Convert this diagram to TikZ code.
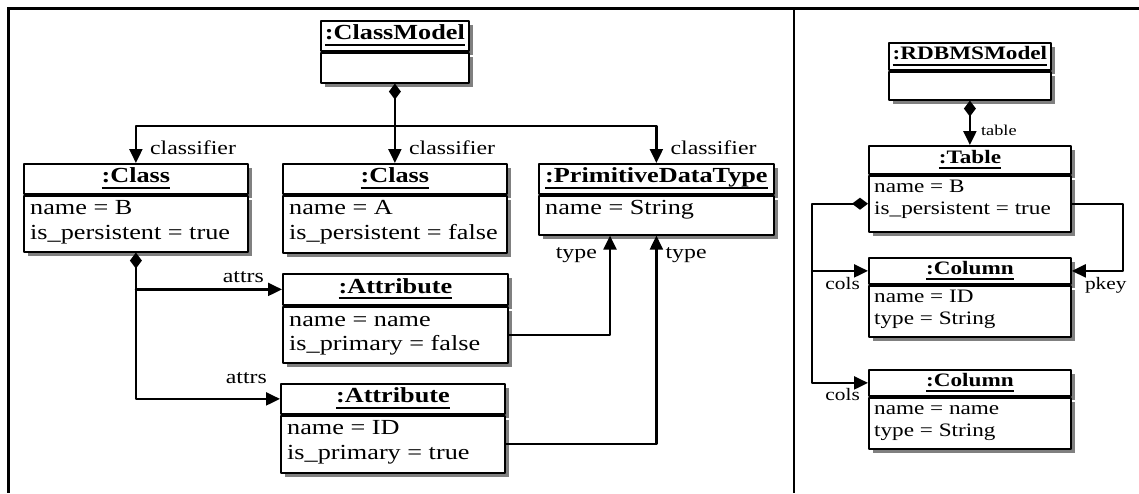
\documentclass[tikz,border=0pt]{standalone}
\usepackage{fontspec}
\setmainfont{Liberation Serif}[FakeStretch=1.22]
\usetikzlibrary{arrows.meta,shadows}
\newcommand\ulname[1]{\setbox0\hbox{#1}\rlap{\rule[-6pt]{\wd0}{2.4pt}}\box0}

\begin{document}
\begin{tikzpicture}[line cap=round,line join=round,x=1pt,y=-1pt]
\tikzset{
  box/.style={draw,line width=1.8pt,fill=white,anchor=north west,inner sep=0pt,
    drop shadow={shadow xshift=4.5pt,shadow yshift=-4.5pt,fill=black!50,opacity=1}},
  head/.style={box,font=\fontsize{21.5}{21}\selectfont\bfseries,text height=15pt,text depth=7pt},
  rhead/.style={box,font=\fontsize{19}{19}\selectfont\bfseries,text height=14pt,text depth=7pt},
  val/.style={anchor=base west,inner sep=0pt,font=\fontsize{21.5}{21}\selectfont},
  rval/.style={val,font=\fontsize{19}{19}\selectfont},
  lbl/.style={inner sep=0pt,font=\fontsize{19.5}{20}\selectfont},
  rlbl/.style={inner sep=0pt,font=\fontsize{17.5}{18}\selectfont},
  link/.style={line width=2.2pt,-{Triangle[length=14pt,width=13pt]}},
  comp/.style={line width=2.2pt,{Diamond[length=16pt,width=12pt]}-{Triangle[length=14pt,width=13pt]}},
  frame/.style={line width=2.7pt,line cap=butt},
}
\useasboundingbox (0,0) rectangle (1139,493);
% frame
\draw[frame] (7.4,8.7) -- (1139,8.7);
\draw[frame] (8.7,8.7) -- (8.7,493);
\draw[frame] (794,8.7) -- (794,493);

% class model side
\node[head,minimum width=148pt,minimum height=30pt] (cmh) at (320,20) {\ulname{:ClassModel}};
\node[box,minimum width=148pt,minimum height=30pt] (cm) at (cmh.south west) {};

\node[head,minimum width=224pt,minimum height=30pt] (clsbh) at (23,163) {\ulname{:Class}};
\node[box,minimum width=224pt,minimum height=56pt] (clsb) at (clsbh.south west) {};
\node[val] (clsb1) at ([xshift=7pt,yshift=-20pt]clsb.north west) {name = B};
\node[val] (clsb2) at ([xshift=7pt,yshift=-45pt]clsb.north west) {is\_persistent = true};

\node[head,minimum width=224pt,minimum height=30pt] (clsah) at (282,163) {\ulname{:Class}};
\node[box,minimum width=224pt,minimum height=57pt] (clsa) at (clsah.south west) {};
\node[val] (clsa1) at ([xshift=7pt,yshift=-20pt]clsa.north west) {name = A};
\node[val] (clsa2) at ([xshift=7pt,yshift=-45pt]clsa.north west) {is\_persistent = false};

\node[head,minimum width=235pt,minimum height=30pt] (pdth) at (538,163) {\ulname{:PrimitiveDataType}};
\node[box,minimum width=235pt,minimum height=39pt] (pdt) at (pdth.south west) {};
\node[val] (pdt1) at ([xshift=7pt,yshift=-20pt]pdt.north west) {name = String};

\node[head,minimum width=225pt,minimum height=31pt] (att1h) at (282,273) {\ulname{:Attribute}};
\node[box,minimum width=225pt,minimum height=56pt] (att1) at (att1h.south west) {};
\node[val] (att11) at ([xshift=7pt,yshift=-21pt]att1.north west) {name = name};
\node[val] (att12) at ([xshift=7pt,yshift=-45pt]att1.north west) {is\_primary = false};

\node[head,minimum width=224pt,minimum height=30pt] (att2h) at (280,383) {\ulname{:Attribute}};
\node[box,minimum width=224pt,minimum height=57pt] (att2) at (att2h.south west) {};
\node[val] (att21) at ([xshift=7pt,yshift=-20pt]att2.north west) {name = ID};
\node[val] (att22) at ([xshift=7pt,yshift=-45pt]att2.north west) {is\_primary = true};

\draw[comp] (cm.south) -- (clsah.north);
\draw[link] ([yshift=-42pt]cm.south) -| (clsbh.north);
\draw[link] ([yshift=-42pt]cm.south) -| (pdth.north);
\node[lbl,anchor=base west] (lc1) at ([xshift=14pt,yshift=9pt]clsbh.north) {classifier};
\node[lbl,anchor=base west] (lc2) at ([xshift=14pt,yshift=9pt]clsah.north) {classifier};
\node[lbl,anchor=base west] (lc3) at ([xshift=14pt,yshift=9pt]pdth.north) {classifier};

\draw[comp] (clsb.south) |- (att2h.west);
\draw[link] (clsb.south |- att1h.west) -- (att1h.west);
\node[lbl,anchor=base east] (la1) at ([xshift=-18pt,yshift=7pt]att1h.west) {attrs};
\node[lbl,anchor=base east] (la2) at ([xshift=-13pt,yshift=15pt]att2h.west) {attrs};

\draw[link] (att1.east) -| ([xshift=72pt]pdt.south west);
\draw[link] (att2.east) -| (pdt.south);
\node[lbl,anchor=base east] (lt1) at ([xshift=59pt,yshift=-23pt]pdt.south west) {type};
\node[lbl,anchor=base west] (lt2) at ([xshift=9pt,yshift=-23pt]pdt.south) {type};

% rdbms side
\node[rhead,minimum width=162pt,minimum height=27pt] (rdbh) at (888,42) {\ulname{:RDBMSModel}};
\node[box,minimum width=162pt,minimum height=28pt] (rdb) at (rdbh.south west) {};

\node[rhead,minimum width=202pt,minimum height=28pt] (tblh) at (868,145) {\ulname{:Table}};
\node[box,minimum width=202pt,minimum height=56pt] (tbl) at (tblh.south west) {};
\node[rval] (tbl1) at ([xshift=6pt,yshift=-18pt]tbl.north west) {name = B};
\node[rval] (tbl2) at ([xshift=6pt,yshift=-40pt]tbl.north west) {is\_persistent = true};

\node[rhead,minimum width=202pt,minimum height=26pt] (col1h) at (868,257) {\ulname{:Column}};
\node[box,minimum width=202pt,minimum height=51pt] (col1) at (col1h.south west) {};
\node[rval] (col11) at ([xshift=6pt,yshift=-18pt]col1.north west) {name = ID};
\node[rval] (col12) at ([xshift=6pt,yshift=-40pt]col1.north west) {type = String};

\node[rhead,minimum width=202pt,minimum height=26pt] (col2h) at (868,369) {\ulname{:Column}};
\node[box,minimum width=202pt,minimum height=51pt] (col2) at (col2h.south west) {};
\node[rval] (col21) at ([xshift=6pt,yshift=-18pt]col2.north west) {name = name};
\node[rval] (col22) at ([xshift=6pt,yshift=-40pt]col2.north west) {type = String};

\draw[comp] (rdb.south) -- (tblh.north);
\node[rlbl,anchor=base west,font=\fontsize{15}{15}\selectfont] (ltb) at ([xshift=11pt,yshift=10pt]tblh.north) {table};

\draw[comp] (tbl.west) -| ([xshift=-56pt]col1h.west) |- (col2h.west);
\draw[link] ([xshift=-56pt]col1h.west) -- (col1h.west);
\draw[link] (tbl.east) -| ([xshift=51pt]col1h.east) -- (col1h.east);
\node[rlbl,anchor=base east] (lco1) at ([xshift=-8pt,yshift=-19pt]col1h.west) {cols};
\node[rlbl,anchor=base east] (lco2) at ([xshift=-8pt,yshift=-18pt]col2h.west) {cols};
\node[rlbl,anchor=base west] (lpk) at ([xshift=13pt,yshift=-19pt]col1h.east) {pkey};
\end{tikzpicture}
\end{document}
